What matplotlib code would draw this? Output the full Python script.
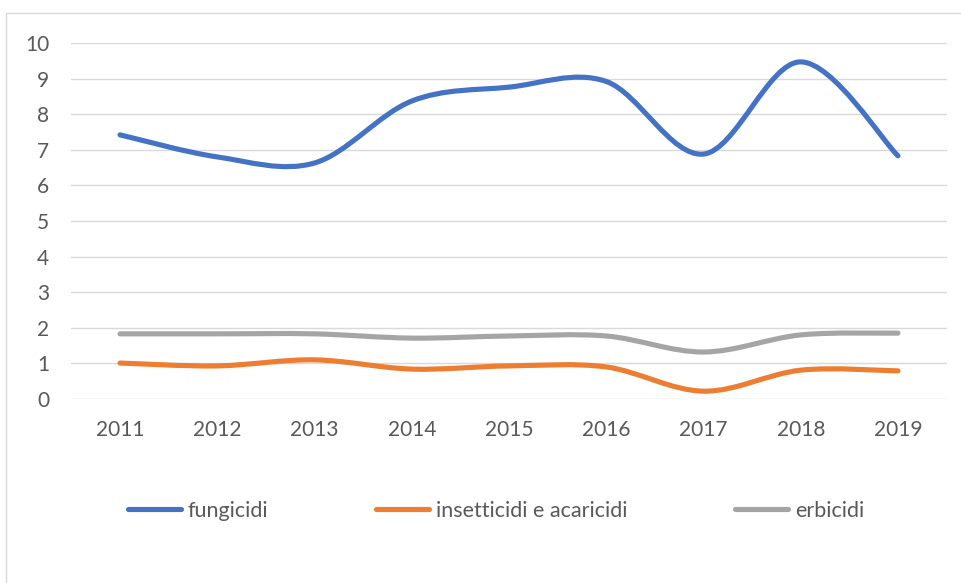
import matplotlib
matplotlib.use("Agg")
import matplotlib.pyplot as plt
from matplotlib.path import Path
from matplotlib.patches import PathPatch, Rectangle
from matplotlib.lines import Line2D

plt.rcParams['font.family'] = ['Lato', 'DejaVu Sans']

# data
years = ["2011", "2012", "2013", "2014", "2015", "2016", "2017", "2018", "2019"]
fungicidi = [7.42, 6.80, 6.63, 8.37, 8.76, 8.92, 6.88, 9.47, 6.83]
insetticidi = [1.01, 0.93, 1.10, 0.84, 0.93, 0.90, 0.22, 0.81, 0.79]
erbicidi = [1.83, 1.83, 1.83, 1.71, 1.77, 1.77, 1.32, 1.80, 1.85]

series = [
    ("fungicidi", fungicidi, "#4472C4"),
    ("insetticidi e acaricidi", insetticidi, "#ED7D31"),
    ("erbicidi", erbicidi, "#A5A5A5"),
]


def smooth_path(xs, ys):
    # Excel-like smoothed line: cubic Bezier segments through the data points
    pts = list(zip(xs, ys))
    n = len(pts)
    verts = [pts[0]]
    codes = [Path.MOVETO]
    for i in range(n - 1):
        p0 = pts[i - 1] if i > 0 else pts[i]
        p1 = pts[i]
        p2 = pts[i + 1]
        p3 = pts[i + 2] if i + 2 < n else pts[i + 1]
        c1 = (p1[0] + (p2[0] - p0[0]) / 6, p1[1] + (p2[1] - p0[1]) / 6)
        c2 = (p2[0] - (p3[0] - p1[0]) / 6, p2[1] - (p3[1] - p1[1]) / 6)
        verts += [c1, c2, p2]
        codes += [Path.CURVE4] * 3
    return Path(verts, codes)


fig = plt.figure(figsize=(9.61, 5.83), dpi=100)
fig.patches.append(Rectangle((6 / 961, -0.1), 1.1, 1 - 13 / 583 + 0.1,
                             transform=fig.transFigure, fill=False,
                             edgecolor="#D9D9D9", linewidth=1))
ax = fig.add_axes([71.4 / 961, 184 / 583, 875.2 / 961, 356 / 583])

x = list(range(len(years)))
handles = []
for name, vals, col in series:
    patch = PathPatch(smooth_path(x, vals), fill=False, edgecolor=col,
                      linewidth=3.7, capstyle="round", joinstyle="round", zorder=3)
    ax.add_patch(patch)
    handles.append(Line2D([], [], color=col, linewidth=3.7,
                          solid_capstyle="round", label=name))

ax.set_xlim(-0.5, len(years) - 0.5)
ax.set_ylim(0, 10)
ax.set_yticks(range(0, 11))
ax.set_xticks(x)
ax.set_xticklabels(years)
ax.grid(axis="y", color="#D9D9D9", linewidth=1)
ax.set_axisbelow(True)
for s in ax.spines.values():
    s.set_visible(False)
ax.tick_params(axis="both", length=0, labelsize=15, labelcolor="#595959")
ax.tick_params(axis="y", pad=16)
ax.tick_params(axis="x", pad=15)

fig.legend(handles=handles, loc="center", bbox_to_anchor=(496 / 961, 1 - 511 / 583),
           ncol=3, frameon=False, fontsize=15.5, labelcolor="#595959",
           handlelength=2.45, handletextpad=0.33, columnspacing=5.0)

fig.savefig("out.png", dpi=100)
